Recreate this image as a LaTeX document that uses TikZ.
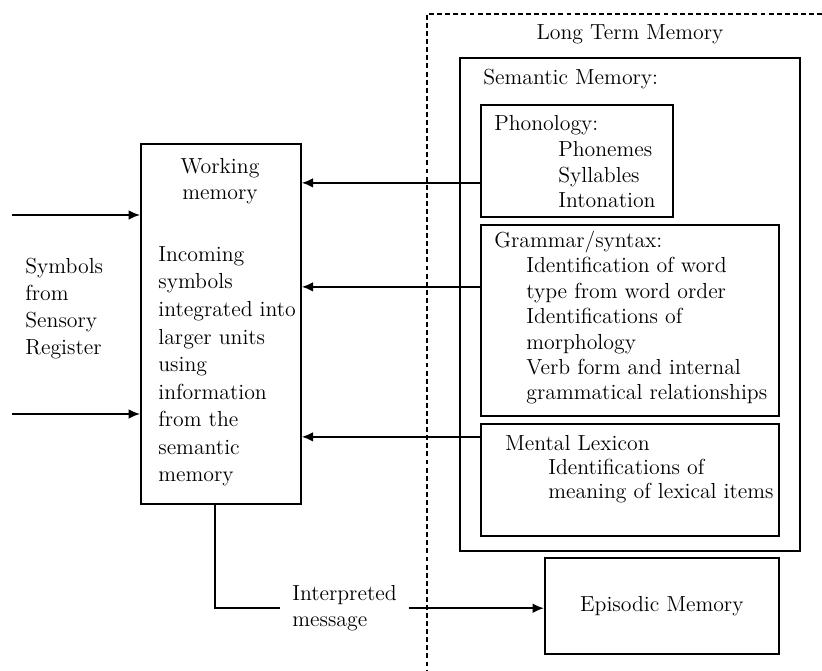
\documentclass[tikz,border=0pt]{standalone}
\usepackage{tikz}
\usetikzlibrary{arrows.meta,positioning,calc}
\tikzset{
    block/.style={
    rectangle,draw=black,line width=1pt,inner sep=0pt,anchor=north west,
    font=\fontsize{12.4}{14.7}\selectfont
    },
    txt/.style={
    align=left,inner sep=0pt,anchor=base west,font=\fontsize{12.4}{14.7}\selectfont
    },
    wtxt/.style={
    align=left,inner sep=0pt,anchor=base west,font=\fontsize{12.4}{15.7}\selectfont
    },
    feed/.style={
    line width=1pt,-{Latex[length=6.5pt,width=5.5pt]}
    },
    ltm/.style={
    line width=0.7pt,dash pattern=on 2.8pt off 1.8pt
    },
}
\begin{document}
\begin{tikzpicture}[x=0.02cm, y=-0.02cm]
   \useasboundingbox (0,0) rectangle (822,671);

   % long term memory region
   \coordinate (ltmend) at (822,14);
   \coordinate (ltmcorner) at (427,14);
   \coordinate (ltmfoot) at (427,671);
   \draw[ltm] (ltmend) -- (ltmcorner) -- (ltmfoot);
   \node[txt,anchor=base] (ltmlabel) at (630,40) {Long Term Memory};

   % boxes
   \node[block,minimum width=3.2cm,minimum height=7.2cm] (wm) at (140,143) {};
   \node[block,minimum width=6.8cm,minimum height=9.86cm] (sem) at (459,57) {};
   \node[block,minimum width=3.84cm,minimum height=2.24cm] (phon) at (480,104) {};
   \node[block,minimum width=5.96cm,minimum height=3.82cm] (gram) at (480,224) {};
   \node[block,minimum width=5.96cm,minimum height=2.24cm] (lex) at (480,423) {};
   \node[block,minimum width=4.68cm,minimum height=1.92cm] (epi) at (544,557) {Episodic Memory};

   % texts (anchored at the baseline of their last line)
   \node[wtxt,font=\fontsize{12.4}{15.5}\selectfont] (source) at (25,355) {Symbols\\from\\Sensory\\Register};
   \node[wtxt,anchor=base,align=center,font=\fontsize{12.4}{15.3}\selectfont] (wmtitle) at (220,200) {Working\\memory};
   \node[wtxt] (wmbody) at (158,482) {Incoming\\symbols\\integrated into\\larger units\\using\\information\\from the\\semantic\\memory};
   \node[txt] (semlabel) at (483,85) {Semantic Memory:};
   \node[txt] (phonlabel) at (494,208) {Phonology:\\\hspace*{1.28cm}Phonemes\\\hspace*{1.28cm}Syllables\\\hspace*{1.28cm}Intonation};
   \node[txt,font=\fontsize{12.4}{14.46}\selectfont] (gramlabel) at (494,400) {Grammar/syntax:\\\hspace*{0.64cm}Identification of word\\\hspace*{0.64cm}type from word order\\\hspace*{0.64cm}Identifications of\\\hspace*{0.64cm}morphology\\\hspace*{0.64cm}Verb form and internal\\\hspace*{0.64cm}grammatical relationships};
   \node[txt,font=\fontsize{12.4}{13.9}\selectfont] (lexlabel) at (505,499) {Mental Lexicon\\\hspace*{0.86cm}Identifications of\\\hspace*{0.86cm}meaning of lexical items};
   \node[txt,inner xsep=0.24cm,font=\fontsize{12.4}{15.3}\selectfont] (msg) at (280,627) {Interpreted\\message};

   % connectors
   \coordinate (in1) at (12,215);
   \coordinate (in2) at (12,414);
   \draw[feed] (in1) -- (in1 -| wm.west);
   \draw[feed] (in2) -- (in2 -| wm.west);
   \draw[feed] ([yshift=-0.44cm]phon.west) -- ([yshift=-0.44cm]phon.west -| wm.east);
   \draw[feed] ([yshift=0.67cm]gram.west) -- ([yshift=0.67cm]gram.west -| wm.east);
   \draw[feed] ([yshift=0.86cm]lex.west) -- ([yshift=0.86cm]lex.west -| wm.east);
   \draw[line width=1pt] ([xshift=-0.12cm]wm.south) |- (msg.west);
   \draw[feed] (msg.east) -- (msg.east -| epi.west);
\end{tikzpicture}
\end{document}
